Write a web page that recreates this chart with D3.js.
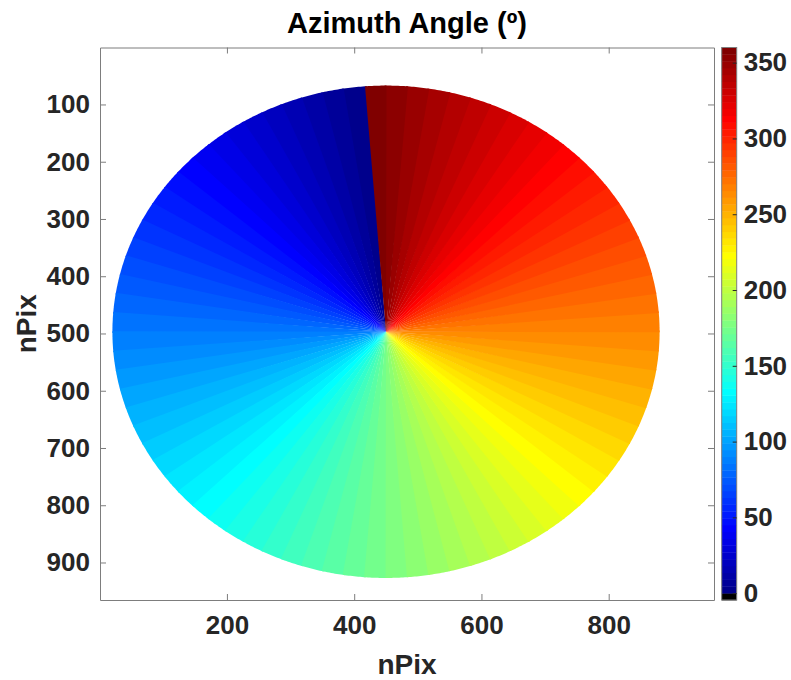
<!DOCTYPE html>
<html>
<head>
<meta charset="utf-8">
<script src="https://cdn.jsdelivr.net/npm/d3@7"></script>
<style>
body { margin: 0; background: #fff; }
text { font-family: "Liberation Sans", Arial, Helvetica, sans-serif; font-weight: bold; }
</style>
</head>
<body>
<script>
const W = 791, H = 680

// extent of the azimuth map, in pixels of the image
const xDomain = [0.5, 965.5]
const yDomain = [0.5, 965.5]
const xTicks = [200, 400, 600, 800]
const yTicks = [100, 200, 300, 400, 500, 600, 700, 800, 900]

// colour bar
const cDomain = [-4.5, 360]
const cTicks = [0, 50, 100, 150, 200, 250, 300, 350]
const nLevels = 80          // jet levels; one extra black level sits below 0

// the disk of azimuth values
const diskCenter = [450, 497]
const diskRadius = 430
const zeroOffset = 4.4      // deg, 0 line turned from north towards the left

const plot = {left: 100, right: 714, top: 47.5, bottom: 600}
const cbar = {left: 721.7, right: 736.7}

// MATLAB jet(n)
function jet(n){
    const m = Math.ceil(n / 4)
    const u = []
    for (let i = 1; i <= m; i++) u.push(i / m)
    for (let i = 1; i < m; i++) u.push(1)
    for (let i = m; i >= 1; i--) u.push(i / m)
    const off = Math.ceil(n / 2) - (n % 4 == 1 ? 1 : 0) - Math.ceil(u.length / 2)
    const J = d3.range(n).map(() => [0, 0, 0])
    let g = u.map((d, i) => off + i + 1)
    let r = g.map(d => d + m).filter(d => d <= n)
    let b = g.map(d => d - m).filter(d => d >= 1)
    g = g.filter(d => d <= n)
    r.forEach((k, i) => J[k - 1][0] = u[i])
    g.forEach((k, i) => J[k - 1][1] = u[i])
    b.forEach((k, i) => J[k - 1][2] = u[u.length - b.length + i])
    return J.map(c => d3.rgb(c[0] * 255, c[1] * 255, c[2] * 255).formatHex())
}

const jetColors = jet(nLevels)
const binStep = 360 / nLevels

const svg = d3.select("body").append("svg")
    .attr("width", W)
    .attr("height", H)

const x = d3.scaleLinear().domain(xDomain).range([plot.left, plot.right])
const y = d3.scaleLinear().domain(yDomain).range([plot.top, plot.bottom])
const c = d3.scaleLinear().domain(cDomain).range([plot.bottom, plot.top])

// sectors of the disk
const sectors = d3.range(nLevels).map(i => ({a0: i * binStep, a1: (i + 1) * binStep, color: jetColors[i]}))

function sectorPath(d, i){
    const pts = [[x(diskCenter[0]), y(diskCenter[1])]]
    const n = 12
    // a little overlap under the neighbour hides the seams
    const a0 = i == 0 ? d.a0 - 0.4 : d.a0
    const a1 = i < nLevels - 1 ? d.a1 + 0.4 : d.a1
    for (let k = 0; k <= n; k++){
        const a = (zeroOffset + a0 + (a1 - a0) * k / n) * Math.PI / 180
        const px = diskCenter[0] - diskRadius * Math.sin(a)
        const py = diskCenter[1] - diskRadius * Math.cos(a)
        pts.push([x(px), y(py)])
    }
    return d3.line()(pts) + "Z"
}

svg.append("g")
    .selectAll("path")
    .data(sectors)
    .enter()
    .append("path")
    .attr("d", sectorPath)
    .attr("fill", d => d.color)

// axes
const axisColor = "#7d7d7d"
const labelColor = "#262626"

function styleAxis(g, fontSize){
    g.select(".domain").attr("stroke", axisColor)
    g.selectAll(".tick line").attr("stroke", axisColor)
    g.selectAll(".tick text")
        .attr("fill", labelColor)
        .style("font-size", fontSize + "px")
        .style("font-family", '"Liberation Sans", Arial, sans-serif')
        .style("font-weight", "bold")
}

svg.append("g")
    .attr("transform", `translate(0,${plot.bottom})`)
    .call(d3.axisBottom(x).tickValues(xTicks).tickSize(-6).tickSizeOuter(0).tickPadding(16))
    .call(g => styleAxis(g, 26))

svg.append("g")
    .attr("transform", `translate(0,${plot.top})`)
    .call(d3.axisTop(x).tickValues(xTicks).tickSize(-6).tickSizeOuter(0).tickFormat(""))
    .call(g => styleAxis(g, 26))

svg.append("g")
    .attr("transform", `translate(${plot.left},0)`)
    .call(d3.axisLeft(y).tickValues(yTicks).tickSize(-6).tickSizeOuter(0).tickPadding(10))
    .call(g => styleAxis(g, 26))

svg.append("g")
    .attr("transform", `translate(${plot.right},0)`)
    .call(d3.axisRight(y).tickValues(yTicks).tickSize(-6).tickSizeOuter(0).tickFormat(""))
    .call(g => styleAxis(g, 26))

// colour bar
const levels = d3.range(nLevels + 1).map(j => ({
    lo: cDomain[0] + j * binStep,
    hi: cDomain[0] + (j + 1) * binStep,
    color: j == 0 ? "#000000" : jetColors[j - 1]
}))

svg.append("g")
    .selectAll("rect")
    .data(levels)
    .enter()
    .append("rect")
    .attr("x", cbar.left)
    .attr("width", cbar.right - cbar.left)
    .attr("y", d => c(d.hi))
    .attr("height", d => c(d.lo) - c(d.hi) + 0.4)
    .attr("fill", d => d.color)

svg.append("rect")
    .attr("x", cbar.left)
    .attr("y", plot.top)
    .attr("width", cbar.right - cbar.left)
    .attr("height", plot.bottom - plot.top)
    .attr("fill", "none")
    .attr("stroke", axisColor)

svg.append("g")
    .attr("transform", `translate(${cbar.right},0)`)
    .call(d3.axisRight(c).tickValues(cTicks).tickSize(-4).tickSizeOuter(0).tickPadding(7))
    .call(g => {
        styleAxis(g, 26)
        g.select(".domain").remove()
        g.selectAll(".tick line").attr("stroke", labelColor)
    })

// titles
svg.append("text")
    .attr("x", (plot.left + plot.right) / 2)
    .attr("y", 33)
    .attr("text-anchor", "middle")
    .attr("fill", "#000")
    .style("font-size", "29px")
    .text("Azimuth Angle (º)")

svg.append("text")
    .attr("x", (plot.left + plot.right) / 2)
    .attr("y", 674)
    .attr("text-anchor", "middle")
    .attr("fill", labelColor)
    .style("font-size", "28px")
    .text("nPix")

svg.append("text")
    .attr("transform", `translate(36,${(plot.top + plot.bottom) / 2}) rotate(-90)`)
    .attr("text-anchor", "middle")
    .attr("fill", labelColor)
    .style("font-size", "28px")
    .text("nPix")
</script>
</body>
</html>
